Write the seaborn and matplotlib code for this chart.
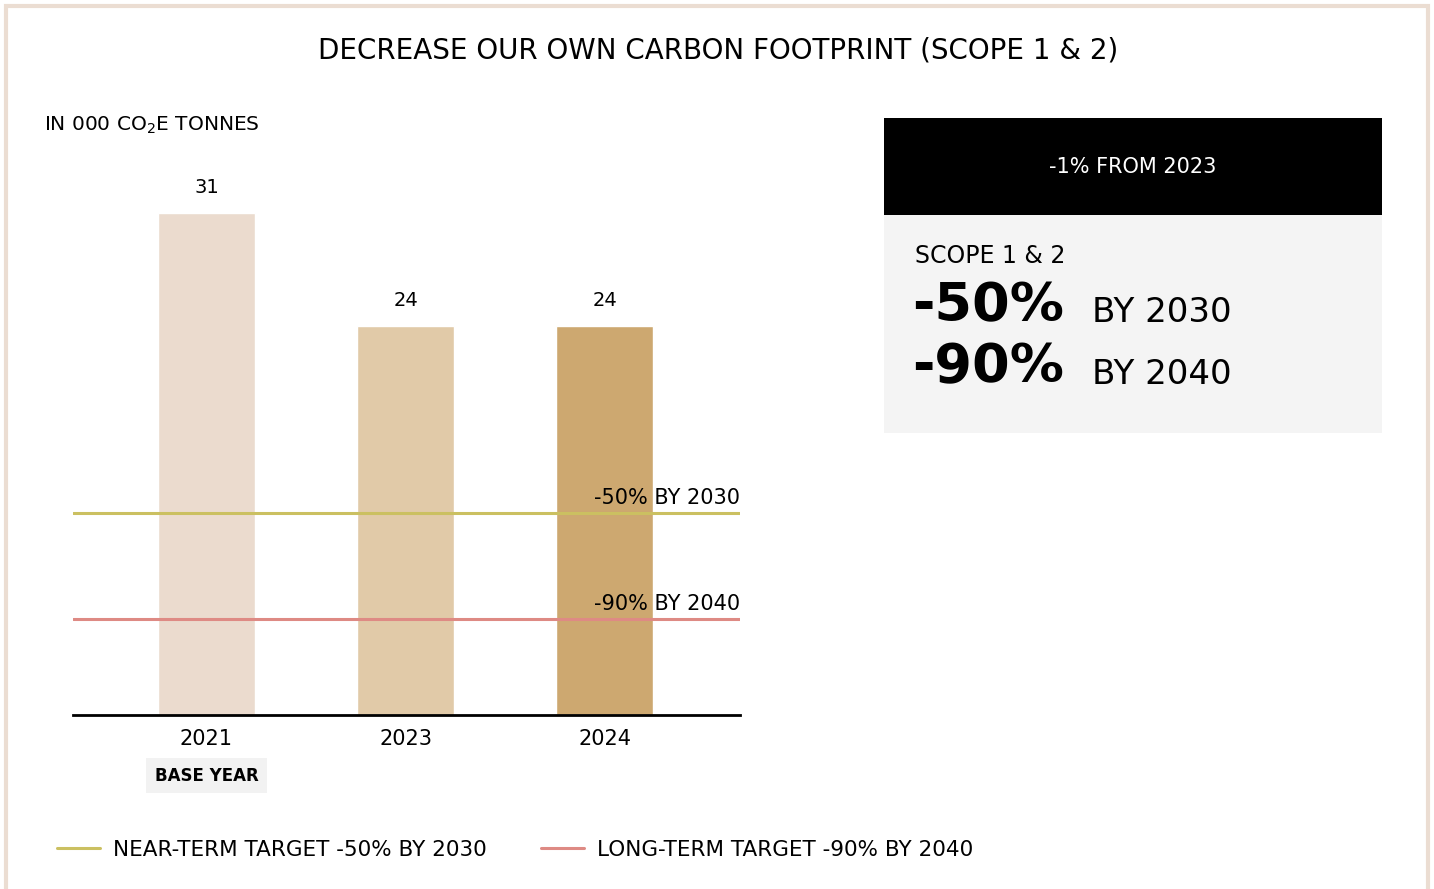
import matplotlib.pyplot as plt
import matplotlib.patches as mpatches
import pandas as pd
import seaborn as sns

years = ["2021", "2023", "2024"]
emissions = [31, 24, 24]
bar_colors = ["#EBDBCE", "#E1CAA8", "#CDA870"]

target_labels = ["-50% BY 2030", "-90% BY 2040"]
target_levels = [12.45, 5.9]
target_colors = ["#CBC061", "#DE8A84"]
legend_labels = ["NEAR-TERM TARGET -50% BY 2030", "LONG-TERM TARGET -90% BY 2040"]

W, H = 1434, 889


def fx(px):
    return px / W


def fy(py):
    return 1 - py / H


sns.set_style("white")
plt.rcParams["font.family"] = ["DejaVu Sans"]
plt.rcParams["text.color"] = "black"
plt.rcParams["xtick.color"] = "black"

fig = plt.figure(figsize=(W / 100, H / 100), dpi=100)

# outer frame
fig.patches.append(mpatches.Rectangle((fx(6), -0.05), fx(1422), fy(6) + 0.05,
                                      transform=fig.transFigure, fill=False,
                                      edgecolor="#EBDDD2", linewidth=3))

ax = fig.add_axes([fx(73), fy(715), fx(740 - 73), (715 - 150) / H])
df = pd.DataFrame({"year": years, "value": emissions})
sns.barplot(data=df, x="year", y="value", hue="year", palette=bar_colors,
            width=0.49, saturation=1, legend=False, ax=ax)
ax.set_ylim(0, 565 / 16.2)
ax.set_xlim(-0.67, 2.68)
ax.set_xlabel("")
ax.set_ylabel("")
ax.set_yticks([])
for s in ["top", "right", "left"]:
    ax.spines[s].set_visible(False)
ax.spines["bottom"].set_linewidth(2)
ax.spines["bottom"].set_color("black")
ax.tick_params(axis="x", length=0, labelsize=15, pad=10)

for i, v in enumerate(emissions):
    ax.text(i, v + 1.0, f"{v}", ha="center", va="bottom", fontsize=14)

handles = []
for lab, lvl, col in zip(target_labels, target_levels, target_colors):
    ln = ax.axhline(lvl, color=col, linewidth=2.2, zorder=3)
    handles.append(ln)
    ax.text(2.68, lvl + 0.35, lab, ha="right", va="bottom", fontsize=15, zorder=4)

# base year tag
ax.text(0, -3.75, "BASE YEAR", ha="center", va="center", fontsize=12,
        fontweight="bold", clip_on=False,
        bbox=dict(boxstyle="square,pad=0.5", facecolor="#F2F2F2", edgecolor="none"))

# titles
fig.text(fx(718), fy(51), "DECREASE OUR OWN CARBON FOOTPRINT (SCOPE 1 & 2)",
         ha="center", va="center", fontsize=20)
fig.text(fx(44), fy(125), "IN 000 CO$_2$E TONNES", ha="left", va="center", fontsize=14.5)

# key figures panel
fig.patches.append(mpatches.Rectangle((fx(884), fy(215)), fx(1382 - 884), (215 - 118) / H,
                                      transform=fig.transFigure, facecolor="black",
                                      edgecolor="none"))
fig.patches.append(mpatches.Rectangle((fx(884), fy(433)), fx(1382 - 884), (433 - 215) / H,
                                      transform=fig.transFigure, facecolor="#F4F4F4",
                                      edgecolor="none"))
fig.text(fx(1133), fy(167), "-1% FROM 2023", color="white", ha="center", va="center",
         fontsize=15)
fig.text(fx(915), fy(256), "SCOPE 1 & 2", ha="left", va="center", fontsize=17)
fig.text(fx(912), fy(306), "-50%", ha="left", va="center", fontsize=39, fontweight="bold")
fig.text(fx(1092), fy(313), "BY 2030", ha="left", va="center", fontsize=24.5)
fig.text(fx(912), fy(367), "-90%", ha="left", va="center", fontsize=39, fontweight="bold")
fig.text(fx(1092), fy(374), "BY 2040", ha="left", va="center", fontsize=24.5)

fig.legend(handles, legend_labels, loc="center left", bbox_to_anchor=(fx(38), fy(850)),
           ncol=2, frameon=False, fontsize=15.5, handlelength=2.0, handletextpad=0.6,
           columnspacing=2.5)

fig.savefig("out.png", dpi=100)
